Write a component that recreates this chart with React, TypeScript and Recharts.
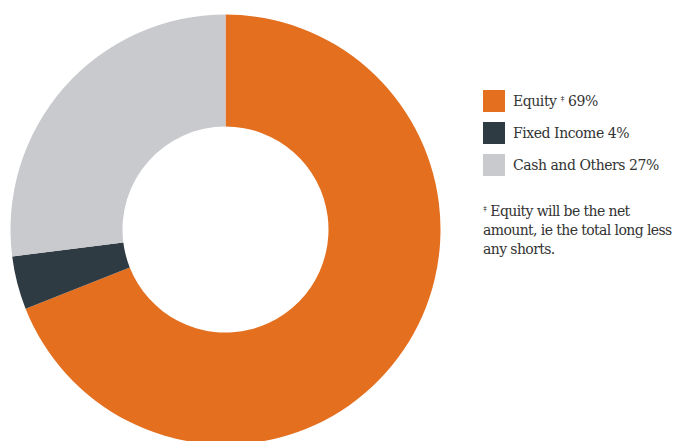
import { PieChart, Pie, Cell } from 'recharts';

const categories = ['Equity', 'Fixed Income', 'Cash and Others'];
const values = [69, 4, 27];
const legendLabels = ['Equity \u2021 69%', 'Fixed Income 4%', 'Cash and Others 27%'];
const colors = ['#E36F1F', '#2F3B42', '#C8CACD'];
const footnote = ['\u2021 Equity will be the net', 'amount, ie the total long less', 'any shorts.'];

const chartData = categories.map((name, i) => ({ name, value: values[i] }));

const fontFamily = '"DejaVu Serif", serif';

// render the double dagger as a small raised mark, like the source
function withDagger(text: string) {
  const parts = text.split('\u2021');
  if (parts.length === 1) return text;
  return (
    <>
      {parts[0]}
      <span style={{ fontSize: 8, verticalAlign: 5 }}>{'\u2021'}</span>
      {parts[1]}
    </>
  );
}

export default function App() {
  return (
    <div style={{ position: 'absolute', left: 0, top: 0, width: 675, height: 441, overflow: 'hidden', background: '#fff' }}>
      <PieChart width={675} height={441} margin={{ top: 0, right: 0, bottom: 0, left: 0 }}>
        <Pie
          data={chartData}
          dataKey="value"
          cx={225.5}
          cy={229.5}
          innerRadius={103}
          outerRadius={215}
          startAngle={90}
          endAngle={-270}
          stroke="none"
          isAnimationActive={false}
        >
          {chartData.map((d, i) => (
            <Cell key={d.name} fill={colors[i]} />
          ))}
        </Pie>
      </PieChart>

      {/* legend */}
      <div style={{ position: 'absolute', left: 483, top: 90, fontFamily, color: '#333', fontSize: 14 }}>
        {legendLabels.map((label, i) => (
          <div key={label} style={{ display: 'flex', alignItems: 'center', height: 22, marginBottom: 10 }}>
            <div style={{ width: 22, height: 22, background: colors[i], marginRight: 8 }} />
            <span style={{ letterSpacing: -0.45 }}>{withDagger(label)}</span>
          </div>
        ))}
      </div>

      <div style={{ position: 'absolute', left: 483, top: 199, fontFamily, color: '#333', fontSize: 14, lineHeight: '19px', letterSpacing: -0.6 }}>
        {footnote.map((line) => (
          <div key={line}>{withDagger(line)}</div>
        ))}
      </div>
    </div>
  );
}
